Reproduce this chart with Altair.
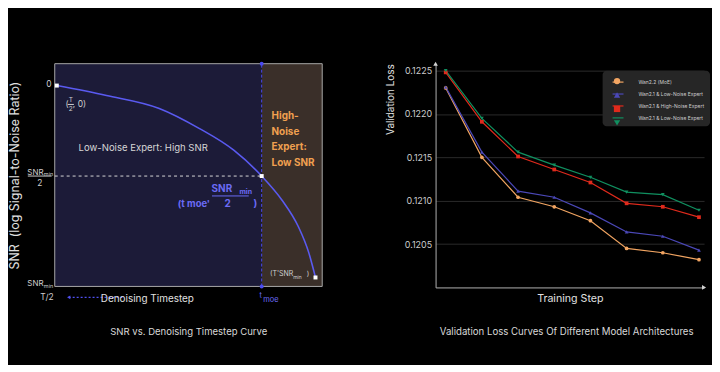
import altair as alt
import pandas as pd

FONT = "Inter"

# ---------------- Left panel: SNR vs denoising timestep ----------------
curve_t = [0.5, 0.596, 0.698, 0.775, 0.842, 0.896, 0.935, 0.967, 0.987, 1.0]
curve_snr = [0.0, -0.05, -0.115, -0.215, -0.325, -0.455, -0.575, -0.71, -0.84, -0.965]
T_HALF, T_MOE, T_END = 0.5, 0.896, 1.0
SNR_ZERO, SNR_HALF, SNR_END = 0.0, -0.455, -0.965
X_DOM = [0.496, 1.013]
Y_DOM = [-1.01, 0.11]

xs = alt.Scale(domain=X_DOM, nice=False, zero=False)
ys = alt.Scale(domain=Y_DOM, nice=False, zero=False)
yaxis = alt.Axis(title="SNR\u00a0\u00a0(log Signal-to-Noise Ratio)", labels=False, ticks=False,
                 domain=False, grid=False, titlePadding=33, titleFontSize=12.5,
                 titleColor="#e0e0e0", titleFont=FONT, titleFontWeight="normal")


def LX(f="t"):
    return alt.X(f"{f}:Q", scale=xs, axis=None)


def LY(f="v"):
    return alt.Y(f"{f}:Q", scale=ys, axis=yaxis)


regions = pd.DataFrame({"x": [X_DOM[0], T_MOE], "x2": [T_MOE, X_DOM[1]],
                        "c": ["#1c1b38", "#3a2f29"]})
reg = alt.Chart(regions).mark_rect().encode(
    x=LX("x"), x2="x2:Q", fill=alt.Fill("c:N", scale=None))

frame = alt.Chart(pd.DataFrame({"x": [X_DOM[0]], "x2": [X_DOM[1]], "y": [Y_DOM[0]], "y2": [Y_DOM[1]]})
                  ).mark_rect(fill=None, stroke="#a8a8a8", strokeWidth=1).encode(
    x=LX("x"), x2="x2:Q", y=LY("y"), y2="y2:Q")

hdash = alt.Chart(pd.DataFrame({"t": [X_DOM[0]], "t2": [T_MOE], "v": [SNR_HALF]})).mark_rule(
    color="#d8d8d8", strokeDash=[3, 3], strokeWidth=1).encode(x=LX(), x2="t2:Q", y=LY())

vdash = alt.Chart(pd.DataFrame({"t": [T_MOE], "v": [Y_DOM[0]], "v2": [Y_DOM[1]]})).mark_rule(
    color="#4a4af0", strokeDash=[3, 2], strokeWidth=1).encode(x=LX(), y=LY(), y2="v2:Q")

curve = alt.Chart(pd.DataFrame({"t": curve_t, "v": curve_snr})).mark_line(
    color="#5a5af0", strokeWidth=1.6, interpolate="monotone").encode(x=LX(), y=LY())

wpts = alt.Chart(pd.DataFrame({"t": [T_HALF, T_MOE, T_END], "v": [SNR_ZERO, SNR_HALF, SNR_END]})).mark_point(
    filled=True, color="#ffffff", size=16, opacity=1, shape="square").encode(x=LX(), y=LY())

bpts = alt.Chart(pd.DataFrame({"t": [T_MOE, T_MOE], "v": [Y_DOM[0], Y_DOM[1]]})).mark_point(
    filled=True, color="#4a4af0", size=16, opacity=1).encode(x=LX(), y=LY())


def ltext(rows, **kw):
    df = pd.DataFrame(rows, columns=["t", "v", "txt"])
    props = dict(font=FONT, baseline="middle")
    props.update(kw)
    return alt.Chart(df).mark_text(**props).encode(x=LX(), y=LY(), text="txt:N")


BLUE = "#6b6bf5"
GREY = "#cfcfcf"
texts = [
    ltext([(0.667, -0.315, "Low-Noise Expert: High SNR")], fontSize=9.6, color="#d6d6d6", align="center"),
    ltext([(0.915, -0.155, "High-"), (0.915, -0.235, "Noise"), (0.915, -0.31, "Expert:"),
           (0.915, -0.39, "Low SNR")], fontSize=10, fontWeight="bold", color="#f0a050", align="left"),
    # (T/2, 0)
    ltext([(0.517, -0.095, "("), (0.531, -0.095, ", 0)")], fontSize=8.5, color=GREY, align="left"),
    ltext([(0.527, -0.073, "T"), (0.527, -0.12, "2")], fontSize=6.5, color=GREY, align="center"),
    # (t moe', SNRmin/2)
    ltext([(0.819, -0.52, "SNR")], fontSize=10, fontWeight="bold", color=BLUE, align="center"),
    ltext([(0.853, -0.535, "min")], fontSize=7, fontWeight="bold", color=BLUE, align="left"),
    ltext([(0.830, -0.595, "2")], fontSize=10, fontWeight="bold", color=BLUE, align="center"),
    ltext([(0.765, -0.595, "(t moe'")], fontSize=9.5, fontWeight="bold", color=BLUE, align="center"),
    ltext([(0.884, -0.595, ")")], fontSize=10, fontWeight="bold", color=BLUE, align="center"),
    # (T'SNRmin)
    ltext([(0.912, -0.95, "(T'SNR")], fontSize=7, color=GREY, align="left"),
    ltext([(0.983, -0.95, ")")], fontSize=7, color=GREY, align="left"),
    ltext([(0.957, -0.962, "min")], fontSize=5, color=GREY, align="left"),
    # y tick labels
    ltext([(0.490, 0.01, "0")], fontSize=8.5, color=GREY, align="right"),
    ltext([(0.443, -0.44, "SNR"), (0.443, -1.0, "SNR")], fontSize=8, color=GREY, align="left"),
    ltext([(0.475, -0.447, "min"), (0.475, -1.007, "min")], fontSize=5.5, color=GREY, align="left"),
    ltext([(0.467, -0.492, "2")], fontSize=8.5, color=GREY, align="center"),
    # x axis annotations
    ltext([(0.481, -1.065, "T/2")], fontSize=8.5, color=GREY, align="center"),
    ltext([(0.675, -1.075, "Denoising Timestep")], fontSize=10, color="#e0e0e0", align="center"),
    ltext([(0.894, -1.058, "t")], fontSize=7.5, color=BLUE, align="center"),
    ltext([(0.899, -1.08, "moe")], fontSize=7.5, color=BLUE, align="left"),
    ltext([(0.755, -1.24, "SNR vs. Denoising Timestep Curve")], fontSize=9.6, color="#d8d8d8", align="center"),
]

bars = alt.Chart(pd.DataFrame({"t": [0.521, 0.800, 0.444], "t2": [0.533, 0.871, 0.490],
                               "v": [-0.095, -0.555, SNR_HALF], "c": [GREY, BLUE, GREY]})).mark_rule(
    strokeWidth=1).encode(x=LX(), x2="t2:Q", y=LY(), color=alt.Color("c:N", scale=None))

arrow_line = alt.Chart(pd.DataFrame({"t": [0.523], "t2": [0.627], "v": [-1.065]})).mark_rule(
    color="#5050f0", strokeDash=[2, 2], strokeWidth=1.2).encode(x=LX(), x2="t2:Q", y=LY())
arrow_head = alt.Chart(pd.DataFrame({"t": [0.523], "v": [-1.065]})).mark_point(
    shape="triangle-left", filled=True, color="#5050f0", size=14, opacity=1).encode(x=LX(), y=LY())

left = alt.layer(reg, frame, hdash, vdash, curve, wpts, bpts, bars, arrow_line, arrow_head, *texts
                 ).properties(width=269, height=224)

# ---------------- Right panel: validation loss ----------------
steps = [1, 2, 3, 4, 5, 6, 7, 8]
loss_moe = [0.12230, 0.12150, 0.12104, 0.12093, 0.12077, 0.12045, 0.12040, 0.12032]
loss_low_a = [0.12231, 0.12156, 0.12111, 0.12104, 0.12086, 0.12064, 0.12059, 0.12043]
loss_high = [0.12248, 0.12191, 0.12151, 0.12136, 0.12121, 0.12097, 0.12093, 0.12081]
loss_low_b = [0.12250, 0.12195, 0.12156, 0.12141, 0.12127, 0.12110, 0.12107, 0.12089]
codes = ["A", "B", "C", "D"]
names = ["Wan2.2 (MoE)", "Wan2.1 & Low-Noise Expert", "Wan2.1 & High-Noise Expert", "Wan2.1 & Low-Noise Expert"]
colors = ["#f2a562", "#4b48b8", "#e02a1c", "#109060"]
shapes = ["circle", "triangle-up", "square", "triangle-down"]
y_ticks = [0.1205, 0.1210, 0.1215, 0.1220, 0.1225]
X2_DOM = [0.72, 8.14]
Y2_DOM = [0.12, 0.12258]

rows = []
for code, vals in zip(codes, [loss_moe, loss_low_a, loss_high, loss_low_b]):
    for s, v in zip(steps, vals):
        rows.append({"step": s, "loss": v, "series": code, "series_m": code})
ldf = pd.DataFrame(rows)

label_expr = " : ".join(f"datum.label == '{c}' ? '{n}'" for c, n in zip(codes, names)) + " : ''"

xs2 = alt.Scale(domain=X2_DOM, nice=False, zero=False)
ys2 = alt.Scale(domain=Y2_DOM, nice=False, zero=False)
xaxis2 = alt.Axis(title="Training Step", labels=False, ticks=False, grid=False, domainColor="#b0b0b0",
                  titleColor="#e0e0e0", titleFontSize=10.7, titleFont=FONT, titleFontWeight="normal",
                  titlePadding=6)
yaxis2 = alt.Axis(title="Validation Loss", values=y_ticks, format=".4f", ticks=False, labelPadding=4,
                  labelColor="#cccccc", labelFontSize=9, labelFont=FONT, domainColor="#b0b0b0",
                  gridColor="#2a2a2a", titleColor="#e0e0e0", titleFontSize=10, titleFont=FONT,
                  titleFontWeight="normal", titleAnchor="end", titlePadding=9)


def RX(f="step"):
    return alt.X(f"{f}:Q", scale=xs2, axis=xaxis2)


def RY(f="loss"):
    return alt.Y(f"{f}:Q", scale=ys2, axis=yaxis2)


LEG_X, LEG_Y = 168, 7
legend_lines = alt.Legend(title=None, orient="none", legendX=LEG_X, legendY=LEG_Y, symbolType="stroke",
                          symbolSize=121, symbolStrokeWidth=1.2, symbolOffset=4, labelFontSize=5,
                          labelColor="#cccccc", labelFont=FONT, labelOffset=14, padding=5, rowPadding=2,
                          fillColor="#262626", cornerRadius=4, labelExpr=label_expr, labelLimit=200)
legend_marks = alt.Legend(title=None, orient="none", legendX=LEG_X, legendY=LEG_Y, symbolSize=40,
                          symbolStrokeWidth=0, symbolOffset=4, labelFontSize=11, labelOpacity=0,
                          padding=5, rowPadding=2)

lines = alt.Chart(ldf).mark_line(strokeWidth=1.2).encode(
    x=RX(), y=RY(),
    stroke=alt.Stroke("series:N", scale=alt.Scale(domain=codes, range=colors), legend=legend_lines))
marks = alt.Chart(ldf).mark_point(filled=True, size=14, opacity=1).encode(
    x=RX(), y=RY(),
    fill=alt.Fill("series_m:N", scale=alt.Scale(range=colors), legend=legend_marks),
    shape=alt.Shape("series_m:N", scale=alt.Scale(range=shapes), legend=legend_marks))

arrow_up = alt.Chart(pd.DataFrame({"step": [X2_DOM[0]], "loss": [Y2_DOM[1]]})).mark_point(
    filled=True, color="#d0d0d0", size=22, opacity=1, shape="triangle-up").encode(x=RX(), y=RY())
arrow_right = alt.Chart(pd.DataFrame({"step": [X2_DOM[1]], "loss": [Y2_DOM[0]]})).mark_point(
    filled=True, color="#d0d0d0", size=22, opacity=1, shape="triangle-right").encode(x=RX(), y=RY())

rtitle = alt.Chart(pd.DataFrame({"step": [4.343], "loss": [0.119484],
                                 "txt": ["Validation Loss Curves Of Different Model Architectures"]})).mark_text(
    font=FONT, fontSize=9.7, color="#d8d8d8", align="center", baseline="middle").encode(
    x=RX(), y=RY(), text="txt:N")

right = alt.layer(lines, marks, arrow_up, arrow_right, rtitle).properties(width=270, height=225)

chart = alt.hconcat(left, right, spacing=114, bounds="flush").resolve_scale(
    stroke="independent", fill="independent", shape="independent", color="independent"
).properties(
    padding={"left": 0, "top": 52, "right": 1, "bottom": 26}
).configure(background="#000000").configure_view(stroke="transparent")

chart.save("out.html", embed_options={"renderer": "svg", "actions": False})
